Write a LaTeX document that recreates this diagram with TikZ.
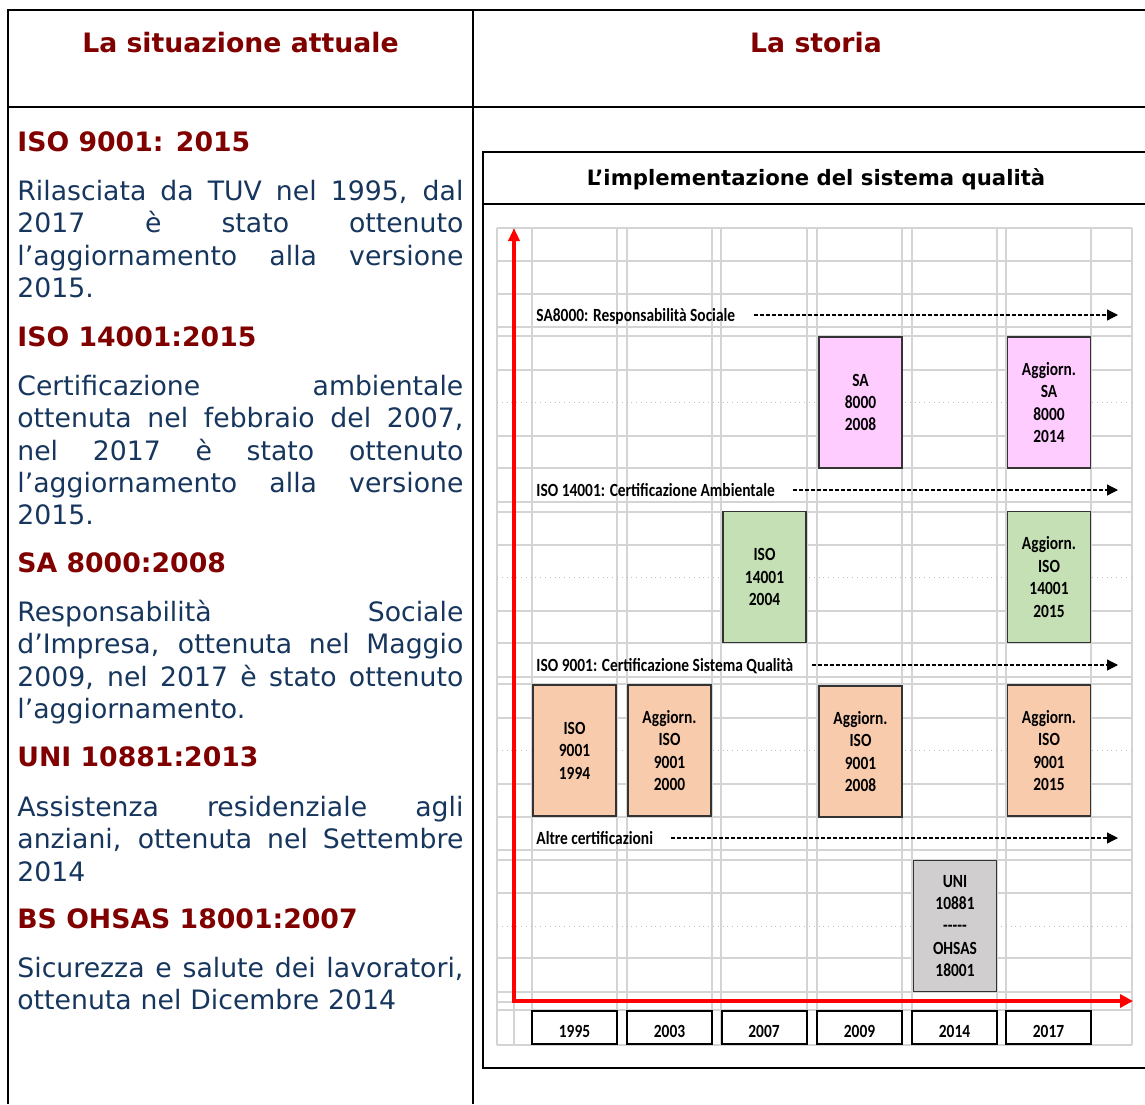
\documentclass[tikz,border=0pt]{standalone}
\usepackage{fontspec}
\setmainfont{DejaVu Sans}
\newfontfamily\chartfont[FakeStretch=0.83]{Carlito}
\usetikzlibrary{arrows.meta}
\definecolor{TitleRed}{RGB}{128,0,0}
\definecolor{TextBlue}{RGB}{23,54,93}
\definecolor{GridGray}{RGB}{212,212,212}
\definecolor{SAPink}{RGB}{255,204,255}
\definecolor{EnvGreen}{RGB}{197,224,180}
\definecolor{QualOrange}{RGB}{248,203,173}
\definecolor{OtherGray}{RGB}{208,206,206}
\newcommand{\bodyfont}{\fontsize{13.35}{16.2}\selectfont}
\newcommand{\cf}{\chartfont\bfseries\fontsize{9.3}{11.2}\selectfont}
\newcommand{\jline}[1]{\makebox[223pt][s]{\spaceskip=0pt\xspaceskip=0pt #1}}
\tikzset{
  rule/.style={line width=1pt},
  head/.style={anchor=base west,inner sep=0pt,font=\bodyfont\bfseries,text=TitleRed},
  body/.style={anchor=north west,inner sep=0pt,text width=223pt,align=left,font=\bodyfont,text=TextBlue},
  gridline/.style={GridGray,line width=1pt},
  cert/.style={draw=black!80,line width=0.6pt,minimum width=41.5pt,minimum height=65.5pt,align=center,font=\cf,inner sep=0pt},
  year/.style={draw,line width=1pt,fill=white,minimum width=42.5pt,minimum height=16.5pt,text height=10.4pt,text depth=0pt,font=\cf,inner sep=0pt},
  track/.style={anchor=west,inner sep=0pt,text height=6pt,text depth=0pt,font=\cf},
  flow/.style={dash pattern=on 2pt off 1pt,line width=0.6pt,-{Triangle[length=5.5pt,width=5.5pt]},shorten <=9pt},
  axis/.style={red,line width=2pt,{Triangle[length=6.5pt,width=5.5pt]}-{Triangle[length=6.5pt,width=6.5pt]}},
}

\begin{document}
\begin{tikzpicture}[x=0.5pt,y=-0.5pt]
  \useasboundingbox (0,0) rectangle (1145,1104);
  % table
  \draw[rule] (8,1104) -- (8,10) -- (1160,10);
  \draw[rule] (473,10) -- (473,1104);
  \draw[rule] (8,107) -- (1160,107);
  \node[font=\bodyfont\bfseries,text=TitleRed] (hdLeft) at (240.5,43) {La situazione attuale};
  \node[font=\bodyfont\bfseries,text=TitleRed] (hdRight) at (816,43) {La storia};

  % left column
  \node[head] (h1) at (17,151) {ISO 9001: 2015};
  \node[body] (p1) at (17,177.3) {\strut\jline{Rilasciata da TUV nel 1995, dal}\\
    \jline{2017 è stato ottenuto}\\
    \jline{l’aggiornamento alla versione}\\
    2015.};
  \node[head] (h2) at (17,346) {ISO 14001:2015};
  \node[body] (p2) at (17,372.3) {\strut\jline{Certificazione ambientale}\\
    \jline{ottenuta nel febbraio del 2007,}\\
    \jline{nel 2017 è stato ottenuto}\\
    \jline{l’aggiornamento alla versione}\\
    2015.};
  \node[head] (h3) at (17,572) {SA 8000:2008};
  \node[body] (p3) at (17,598.3) {\strut\jline{Responsabilità Sociale}\\
    \jline{d’Impresa, ottenuta nel Maggio}\\
    \jline{2009, nel 2017 è stato ottenuto}\\
    l’aggiornamento.};
  \node[head] (h4) at (17,766) {UNI 10881:2013};
  \node[body] (p4) at (17,793.3) {\strut\jline{Assistenza residenziale agli}\\
    \jline{anziani, ottenuta nel Settembre}\\
    2014};
  \node[head] (h5) at (17,928) {BS OHSAS 18001:2007};
  \node[body] (p5) at (17,954.3) {\strut\jline{Sicurezza e salute dei lavoratori,}\\
    ottenuta nel Dicembre 2014};

  % chart frame
  \draw[rule] (1160,152) -- (483,152) -- (483,1068) -- (1160,1068);
  \draw[rule] (483,204) -- (1160,204);
  \node[anchor=base,inner sep=0pt,font=\fontsize{10.6}{12}\selectfont\bfseries] (chartTitle) at (816,185)
    {L’implementazione del sistema qualità};

  % grid
  \foreach \x in {497,514,532,617,627,712,721,807,817,902,912,997,1006,1091,1132}
    \draw[gridline] (\x,228) -- (\x,1045);
  \foreach \y in {228,261,294,327,336,370,436,468,502,512,545,611,643,677,684,718,784,817,850,860,893,958,992,1002,1010,1045}
    \draw[gridline] (497,\y) -- (1132,\y);
  \foreach \y in {402,577,750,926}
    \draw[gray!50,dotted,line width=0.4pt] (497,\y) -- (1132,\y);

  % tracks
  \node[track] (lblSA) at (536,315) {SA8000: Responsabilità Sociale};
  \node[track] (lblEnv) at (536,490) {ISO 14001: Certificazione Ambientale};
  \node[track] (lblQual) at (536,665) {ISO 9001: Certificazione Sistema Qualità};
  \node[track] (lblOther) at (536,838) {Altre certificazioni};
  \coordinate (endSA) at (1118,315);
  \coordinate (endEnv) at (1118,490);
  \coordinate (endQual) at (1118,665);
  \coordinate (endOther) at (1118,838);
  \draw[flow] (lblSA) -- (endSA);
  \draw[flow] (lblEnv) -- (endEnv);
  \draw[flow] (lblQual) -- (endQual);
  \draw[flow] (lblOther) -- (endOther);

  % certificates
  \node[cert,fill=SAPink] (sa1) at (860.5,402.5) {SA\\8000\\2008};
  \node[cert,fill=SAPink] (sa2) at (1049,402.5) {Aggiorn.\\SA\\8000\\2014};
  \node[cert,fill=EnvGreen] (env1) at (764.5,577) {ISO\\14001\\2004};
  \node[cert,fill=EnvGreen] (env2) at (1049,577) {Aggiorn.\\ISO\\14001\\2015};
  \node[cert,fill=QualOrange] (qual1) at (574.5,750.5) {ISO\\9001\\1994};
  \node[cert,fill=QualOrange] (qual2) at (669.5,750.5) {Aggiorn.\\ISO\\9001\\2000};
  \node[cert,fill=QualOrange] (qual3) at (860.5,751.5) {Aggiorn.\\ISO\\9001\\2008};
  \node[cert,fill=QualOrange] (qual4) at (1049,750.5) {Aggiorn.\\ISO\\9001\\2015};
  \node[cert,fill=OtherGray] (oth1) at (955,926) {UNI\\10881\\-----\\OHSAS\\18001};

  % axes
  \coordinate (yTop) at (514,228);
  \coordinate (orig) at (514,1001);
  \coordinate (xEnd) at (1133,1001);
  \draw[axis] (yTop) -- (orig) -- (xEnd);

  % years
  \node[year] (y1995) at (574.5,1027.5) {1995};
  \node[year] (y2003) at (669.5,1027.5) {2003};
  \node[year] (y2007) at (764,1027.5) {2007};
  \node[year] (y2009) at (859.5,1027.5) {2009};
  \node[year] (y2014) at (954.5,1027.5) {2014};
  \node[year] (y2017) at (1048.5,1027.5) {2017};
\end{tikzpicture}
\end{document}
